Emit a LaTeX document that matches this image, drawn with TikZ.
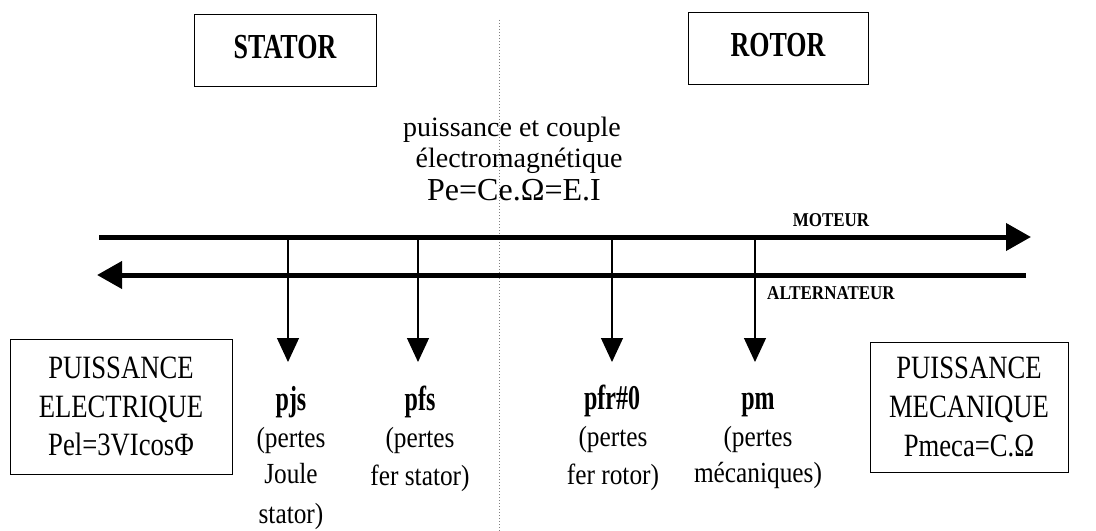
\documentclass[tikz,border=0pt]{standalone}
\usepackage{fontspec}
\setmainfont{Liberation Serif}
\usetikzlibrary{arrows.meta}
\newcommand{\vst}[2]{\scalebox{1}[#1]{#2}}
\begin{document}
\begin{tikzpicture}[x=0.75pt,y=-0.75pt,
  box/.style={draw, line width=0.75pt, inner sep=0pt, outer sep=0pt, align=center},
  headtxt/.style={font=\fontsize{19.5}{23}\selectfont\bfseries, text depth=5.5pt},
  bigtxt/.style={font=\fontsize{20}{29}\selectfont},
  txtline/.style={anchor=base, inner sep=0pt, outer sep=0pt},
  midtxt/.style={txtline, font=\fontsize{21}{25}\selectfont},
  eqtxt/.style={txtline, font=\fontsize{24}{28}\selectfont},
  dirtxt/.style={txtline, font=\fontsize{12.75}{15}\selectfont\bfseries},
  losstitle/.style={txtline, font=\fontsize{18}{22}\selectfont\bfseries},
  losstxt/.style={txtline, font=\fontsize{19}{23}\selectfont},
  flow/.style={line width=3.75pt, -{Triangle[length=18.75pt,width=20pt]}},
  loss/.style={line width=0.9pt, -{Triangle[length=18pt,width=16.5pt]}},
  divider/.style={gray, line width=0.75pt, dash pattern=on 0.75pt off 1.5pt}]
\useasboundingbox (0,0) rectangle (1096,531);

% divider
\coordinate (d0) at (499,20);
\coordinate (d1) at (499,531);
\draw[divider] (d0) -- (d1);

% top boxes
\node[box, headtxt, minimum width=136.5pt, minimum height=54pt] (stator) at (285,51) {\vst{1.35}{STATOR}};
\node[box, headtxt, minimum width=135pt, minimum height=54pt] (rotor) at (778,49) {\vst{1.35}{ROTOR}};

% electromagnetic text
\node[midtxt] (pc1) at (512,137) {puissance et couple};
\node[midtxt] (pc2) at (519,168) {électromagnétique};
\node[eqtxt] (pc3) at (514,200) {Pe=Ce.Ω=E.I};

% flow arrows
\coordinate (m0) at (99,237);
\coordinate (m1) at (1031,237);
\coordinate (a0) at (1026,275);
\coordinate (a1) at (97,275);
\draw[flow] (m0) -- (m1);
\draw[flow] (a0) -- (a1);
\node[dirtxt] (moteur) at (831,227) {\vst{1.15}{MOTEUR}};
\node[dirtxt] (alter) at (831,299) {\vst{1.15}{ALTERNATEUR}};

% loss arrows
\coordinate (s1) at (288,237); \coordinate (t1) at (288,362);
\coordinate (s2) at (418,237); \coordinate (t2) at (418,362);
\coordinate (s3) at (612,237); \coordinate (t3) at (612,362);
\coordinate (s4) at (755,237); \coordinate (t4) at (755,362);
\draw[loss] (s1) -- (t1);
\draw[loss] (s2) -- (t2);
\draw[loss] (s3) -- (t3);
\draw[loss] (s4) -- (t4);

% loss labels
\node[losstitle] (pjs) at (291,410) {\vst{1.45}{pjs}};
\node[losstxt] (pjs1) at (291,447) {\vst{1.15}{(pertes}};
\node[losstxt] (pjs2) at (291,483) {\vst{1.15}{Joule}};
\node[losstxt] (pjs3) at (291,523) {\vst{1.15}{stator)}};

\node[losstitle] (pfs) at (420,410) {\vst{1.45}{pfs}};
\node[losstxt] (pfs1) at (420,447) {\vst{1.15}{(pertes}};
\node[losstxt] (pfs2) at (420,485) {\vst{1.15}{fer stator)}};

\node[losstitle] (pfr) at (612,409) {\vst{1.45}{pfr\#0}};
\node[losstxt] (pfr1) at (613,446) {\vst{1.15}{(pertes}};
\node[losstxt] (pfr2) at (613,484) {\vst{1.15}{fer rotor)}};

\node[losstitle] (pm) at (758,409) {\vst{1.45}{pm}};
\node[losstxt] (pm1) at (758,446) {\vst{1.15}{(pertes}};
\node[losstxt] (pm2) at (758,482) {\vst{1.15}{mécaniques)}};

% power boxes
\node[box, bigtxt, minimum width=166.5pt, minimum height=101.25pt] (pel) at (121,406.5)
  {\vst{1.22}{PUISSANCE}\\\vst{1.22}{ELECTRIQUE}\\\vst{1.22}{Pel=3VIcosΦ}};
\node[box, bigtxt, minimum width=148.5pt, minimum height=97.5pt] (pmeca) at (969,407)
  {\vst{1.22}{PUISSANCE}\\\vst{1.22}{MECANIQUE}\\\vst{1.22}{Pmeca=C.Ω}};
\end{tikzpicture}
\end{document}
